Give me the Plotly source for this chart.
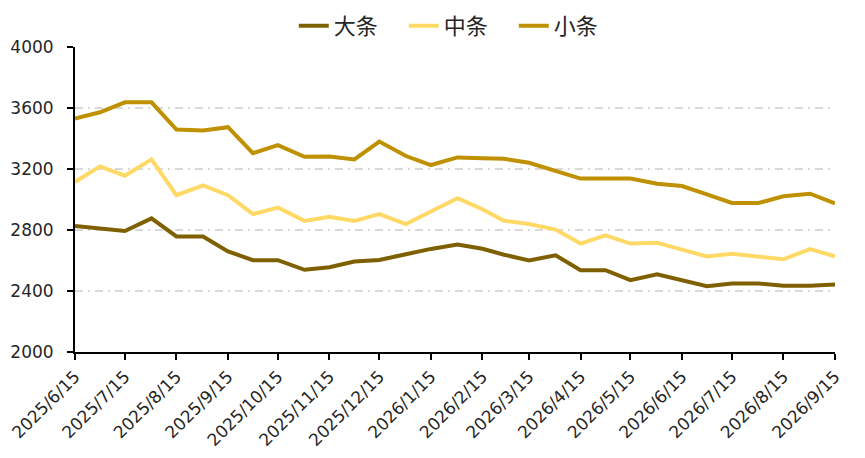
import plotly.graph_objects as go

# half-monthly observation dates
dates = ["2025-06-15", "2025-06-30", "2025-07-15", "2025-07-31", "2025-08-15", "2025-08-31",
         "2025-09-15", "2025-09-30", "2025-10-15", "2025-10-31", "2025-11-15", "2025-11-30",
         "2025-12-15", "2025-12-31", "2026-01-15", "2026-01-31", "2026-02-15", "2026-02-28",
         "2026-03-15", "2026-03-31", "2026-04-15", "2026-04-30", "2026-05-15", "2026-05-31",
         "2026-06-15", "2026-06-30", "2026-07-15", "2026-07-31", "2026-08-15", "2026-08-31",
         "2026-09-15"]

da_tiao = [2826, 2808, 2793, 2876, 2758, 2758, 2660, 2602, 2602, 2539, 2556, 2593,
           2604, 2641, 2676, 2705, 2677, 2638, 2601, 2634, 2536, 2536, 2471, 2510,
           2471, 2432, 2449, 2449, 2434, 2434, 2443]
zhong_tiao = [3115, 3217, 3156, 3263, 3028, 3093, 3028, 2904, 2947, 2860, 2887, 2860,
              2904, 2839, 2921, 3008, 2936, 2861, 2839, 2803, 2711, 2765, 2711, 2716,
              2671, 2627, 2645, 2623, 2608, 2675, 2627]
xiao_tiao = [3530, 3572, 3637, 3637, 3459, 3452, 3474, 3304, 3356, 3280, 3282, 3263,
             3380, 3285, 3226, 3276, 3271, 3267, 3241, 3189, 3137, 3137, 3137, 3103,
             3088, 3034, 2977, 2977, 3021, 3038, 2975]

tick_dates = ["2025-06-15", "2025-07-15", "2025-08-15", "2025-09-15", "2025-10-15",
              "2025-11-15", "2025-12-15", "2026-01-15", "2026-02-15", "2026-03-15",
              "2026-04-15", "2026-05-15", "2026-06-15", "2026-07-15", "2026-08-15",
              "2026-09-15"]
tick_labels = ["2025/6/15", "2025/7/15", "2025/8/15", "2025/9/15", "2025/10/15",
               "2025/11/15", "2025/12/15", "2026/1/15", "2026/2/15", "2026/3/15",
               "2026/4/15", "2026/5/15", "2026/6/15", "2026/7/15", "2026/8/15",
               "2026/9/15"]

fig = go.Figure()
fig.add_trace(go.Scatter(x=dates, y=da_tiao, name="大条", mode="lines",
                         line=dict(color="#7F6000", width=4)))
fig.add_trace(go.Scatter(x=dates, y=zhong_tiao, name="中条", mode="lines",
                         line=dict(color="#FFD966", width=4)))
fig.add_trace(go.Scatter(x=dates, y=xiao_tiao, name="小条", mode="lines",
                         line=dict(color="#BF9000", width=4)))

# page body has an 8px margin, so size the figure to fit the window
fig.update_layout(
    width=857, height=450,
    margin=dict(l=67, r=30, t=38, b=106),
    paper_bgcolor="white", plot_bgcolor="white",
    font=dict(family="DejaVu Sans, Noto Sans CJK SC, sans-serif", size=16, color="#262626"),
    legend=dict(orientation="h", x=0.526, xanchor="center", xref="container",
                y=0.96, yanchor="middle", yref="container",
                font=dict(size=22, family="Noto Sans CJK SC, sans-serif", color="#262626"),
                entrywidth=65, tracegroupgap=0, borderwidth=0),
    showlegend=True,
)
fig.update_xaxes(
    type="date", range=["2025-06-15", "2026-09-15"],
    tickvals=tick_dates, ticktext=tick_labels, tickangle=-45,
    showline=True, linecolor="black", linewidth=2,
    ticks="outside", ticklen=6, tickwidth=2, tickcolor="black",
    showgrid=False, zeroline=False, automargin=False, ticklabeloverflow="allow",
    tickfont=dict(size=17, family="DejaVu Sans, sans-serif"),
)
fig.update_yaxes(
    range=[2000, 4000], dtick=400, tick0=2000,
    showline=True, linecolor="black", linewidth=2,
    ticks="outside", ticklen=6, tickwidth=2, tickcolor="black",
    showgrid=True, gridcolor="#D9D9D9", gridwidth=1.5, griddash="8px,5px,2px,5px",
    zeroline=False, automargin=False, ticklabelstandoff=10,
    tickfont=dict(size=17, family="DejaVu Sans, sans-serif"),
)

fig.write_html("out.html")
